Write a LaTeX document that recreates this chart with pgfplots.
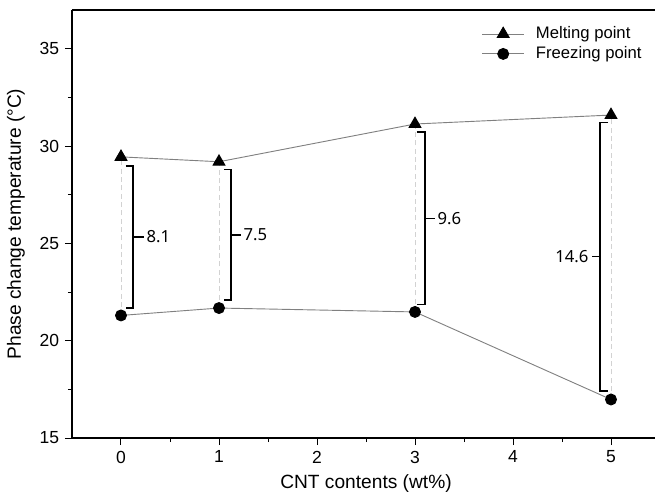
\documentclass[border=0pt]{standalone}
\usepackage{fontspec}
\setmainfont{Liberation Sans}
\newfontfamily\annot{Noto Sans}
\usepackage{pgfplots}
\pgfplotsset{compat=1.18}
\begin{document}
\begin{tikzpicture}
\begin{axis}[
  at={(0pt,0pt)}, anchor=south west,
  scale only axis, width=352.8pt, height=256.8pt,
  xmin=-0.5, xmax=5.5, ymin=15, ymax=37,
  axis lines*=left, clip=false,
  xtick={0,1,2,3,4,5}, minor x tick num=1,
  ytick={15,20,25,30,35}, minor y tick num=1,
  tick align=outside, major tick length=4.2pt, minor tick length=2.4pt,
  tick style={black, line width=0.6pt},
  axis line style={black, line width=0.7pt},
  /pgf/number format/assume math mode=true,
  tick label style={font=\fontsize{10.5}{12}\selectfont},
  label style={font=\fontsize{11.5}{13}\selectfont},
  xlabel={CNT contents (wt\%)},
  ylabel={Phase change temperature (°C)},
  ylabel style={yshift=2pt},
  legend style={at={(axis cs:5.4,36.5)}, anchor=north east, draw=none, fill=none,
    font=\fontsize{10}{11}\selectfont, row sep=-0.8pt},
  legend cell align=left,
  legend image code/.code={\draw[mark repeat=2,mark phase=2,#1] plot coordinates {(0cm,0cm)(0.44cm,0cm)(0.88cm,0cm)}; \path (1.05cm,0cm);},
]
\draw[line width=0.7pt] (rel axis cs:0,1) -- (rel axis cs:1,1);
% dashed verticals
\addplot[gray!35, densely dashed, line width=0.5pt, forget plot, unbounded coords=jump]
  coordinates {(0,21.3)(0,29.45) (0,nan) (1,21.68)(1,29.2) (1,nan) (3,21.48)(3,31.14) (3,nan) (5,16.98)(5,31.6)};
% data
\addplot[color=gray, line width=0.55pt, mark=triangle*, mark size=4.1pt, mark options={black, fill=black, solid}]
  coordinates {(0,29.45)(1,29.2)(3,31.14)(5,31.6)};
\addlegendentry{Melting point}
\addplot[color=gray, line width=0.55pt, mark=*, mark size=3.3pt, mark options={black, fill=black, solid}]
  coordinates {(0,21.3)(1,21.68)(3,21.48)(5,16.98)};
\addlegendentry{Freezing point}
% brackets
\addplot[black, line width=1.1pt, forget plot] coordinates {(0.05,29.0)(0.125,29.0)(0.125,21.68)(0.05,21.68)};
\addplot[black, line width=1.1pt, forget plot] coordinates {(0.125,25.34)(0.23,25.34)};
\node[anchor=west, inner sep=1pt, font=\annot\fontsize{10}{12}\selectfont] at (axis cs:0.24,25.34) {8.1};
\addplot[black, line width=1.1pt, forget plot] coordinates {(1.05,28.8)(1.12,28.8)(1.12,22.08)(1.05,22.08)};
\addplot[black, line width=1.1pt, forget plot] coordinates {(1.12,25.44)(1.22,25.44)};
\node[anchor=west, inner sep=1pt, font=\annot\fontsize{10}{12}\selectfont] at (axis cs:1.23,25.44) {7.5};
\addplot[black, line width=1.1pt, forget plot] coordinates {(3.02,30.71)(3.1,30.71)(3.1,21.86)(3.02,21.86)};
\addplot[black, line width=1.1pt, forget plot] coordinates {(3.1,26.28)(3.2,26.28)};
\node[anchor=west, inner sep=1pt, font=\annot\fontsize{10}{12}\selectfont] at (axis cs:3.21,26.28) {9.6};
\addplot[black, line width=1.1pt, forget plot] coordinates {(4.97,31.22)(4.89,31.22)(4.89,17.43)(4.97,17.43)};
\addplot[black, line width=1.1pt, forget plot] coordinates {(4.89,24.33)(4.81,24.33)};
\node[anchor=east, inner sep=1pt, font=\annot\fontsize{10}{12}\selectfont] at (axis cs:4.79,24.33) {14.6};
\end{axis}
\pgfresetboundingbox
\path (-43.2pt,-34.2pt) rectangle (349.8pt,262.8pt);
\end{tikzpicture}
\end{document}
